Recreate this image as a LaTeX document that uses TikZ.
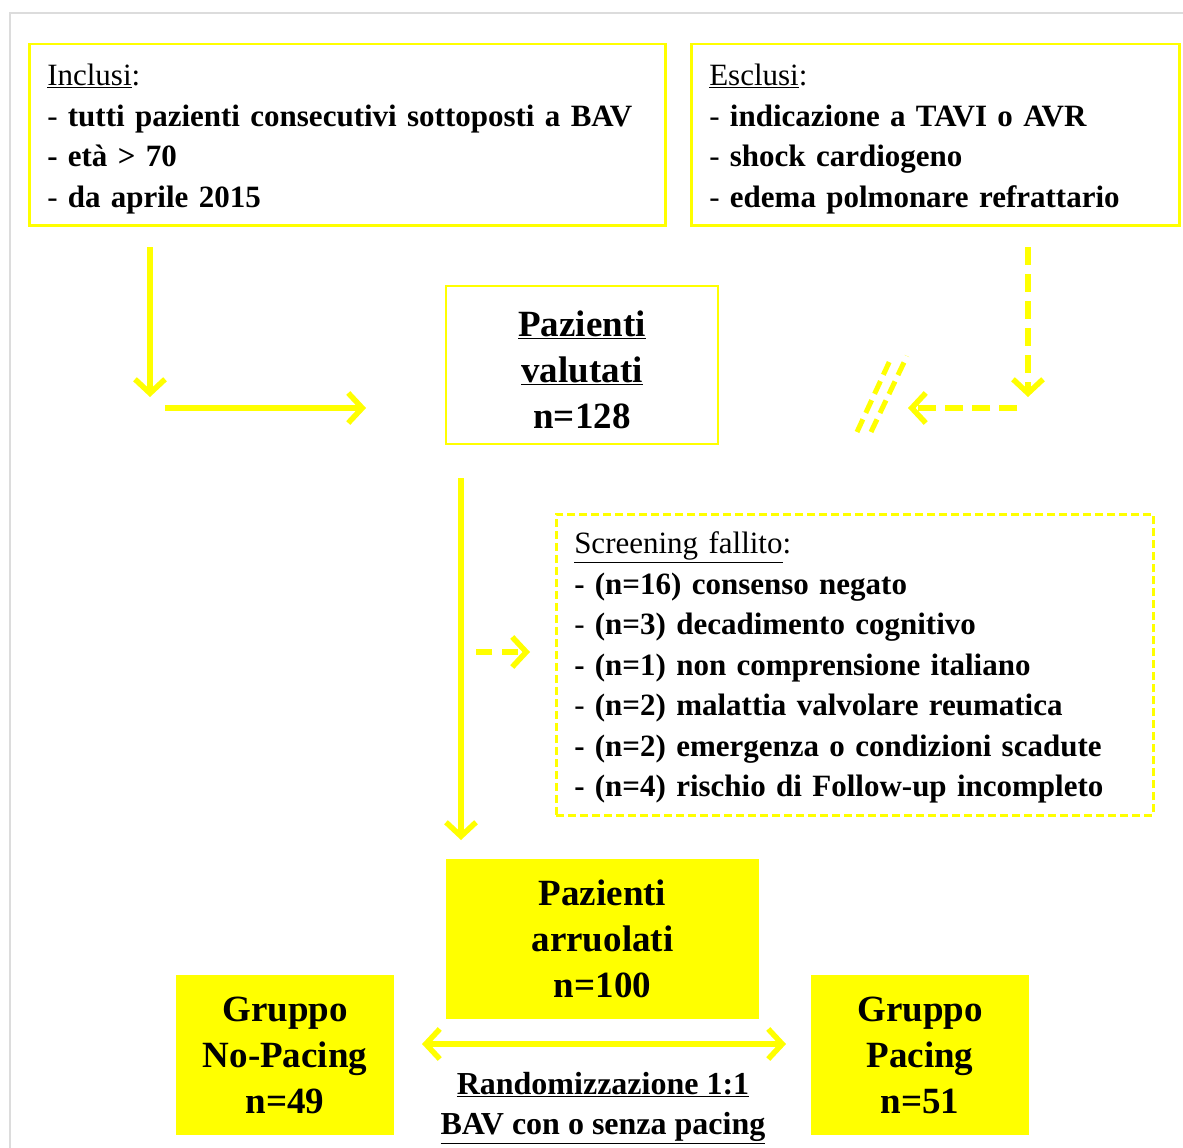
\documentclass[tikz,border=0pt]{standalone}
\usepackage{fontspec}
\setmainfont{Liberation Serif}
\usetikzlibrary{arrows.meta}
\definecolor{giallo}{HTML}{FFFF00}
\definecolor{cornice}{HTML}{DCDCDC}
\newcommand{\testo}{\fontsize{31}{40.5}\selectfont}
\newcommand{\grande}{\fontsize{37}{46}\selectfont\bfseries}
\newcommand{\spinta}[1]{\rule{0pt}{#1}}
\tikzset{
  bordo/.style={draw=giallo, line width=2.5pt, fill=white, inner xsep=18pt, inner ysep=0pt, align=left, font=\testo, anchor=north west},
  pieno/.style={fill=giallo, inner sep=0pt, align=center, font=\grande},
  freccia/.style={draw=giallo, line width=5.5pt, -{Straight Barb[length=14pt,width=30pt]}},
  tratteggio/.style={dash pattern=on 18pt off 9pt}
}

\begin{document}
\begin{tikzpicture}[x=1pt, y=-1pt]
 \useasboundingbox (0,0) rectangle (1183,1148);
 % cornice grigia
 \draw[cornice, line width=2pt] (10,1160) -- (10,13) -- (1195,13);

 % criteri
 \node[bordo, minimum width=636pt, minimum height=181pt, text width=600pt] (inclusi) at (28,43)
   {\spinta{30pt}\underline{Inclusi}:\\
    - \textbf{tutti pazienti consecutivi sottoposti a BAV}\\
    \textbf{- età > 70}\\
    - \textbf{da aprile 2015}};
 \node[bordo, minimum width=488pt, minimum height=181pt, text width=452pt] (esclusi) at (690,43)
   {\spinta{30pt}\underline{Esclusi}:\\
    - \textbf{indicazione a TAVI o AVR}\\
    - \textbf{shock cardiogeno}\\
    - \textbf{edema polmonare refrattario}};

 \node[draw=giallo, line width=2.5pt, minimum width=272pt, minimum height=158pt, inner sep=0pt, align=center, font=\grande] (valutati) at (582,365)
   {\spinta{35pt}\underline{Pazienti}\\ \underline{valutati}\\ n=128};

 \node[bordo, dash pattern=on 8pt off 4pt, minimum width=597pt, minimum height=301pt, text width=561pt] (screening) at (555,513)
   {\spinta{28pt}\underline{Screening fallito}:\\
    \textbf{- (n=16) consenso negato}\\
    - \textbf{(n=3) decadimento cognitivo}\\
    \textbf{- (n=1) non comprensione italiano}\\
    - \textbf{(n=2) malattia valvolare reumatica}\\
    \textbf{- (n=2) emergenza o condizioni scadute}\\
    \textbf{- (n=4) rischio di Follow-up incompleto}};

 \node[pieno, minimum width=313pt, minimum height=160pt] (arruolati) at (602.5,939)
   {Pazienti\\ arruolati\\ n=100};
 \node[pieno, minimum width=218pt, minimum height=160pt] (nopacing) at (285,1055)
   {Gruppo\\ No-Pacing\\ n=49};
 \node[pieno, minimum width=218pt, minimum height=160pt] (pacing) at (920,1055)
   {Gruppo\\ Pacing\\ n=51};

 \node[font=\fontsize{32}{40}\selectfont\bfseries, align=center] (random) at (603,1108)
   {\underline{Randomizzazione 1:1}\\ \underline{BAV con o senza pacing}};

 % punti delle frecce
 \coordinate (a1) at (150,247);
 \coordinate (a2) at (150,397);
 \coordinate (b1) at (165,408);
 \coordinate (b2) at (366,408);
 \coordinate (c1) at (1028,247);
 \coordinate (c2) at (1028,397);
 \coordinate (d1) at (1017,408);
 \coordinate (d2) at (908,408);
 \coordinate (e1) at (461,478);
 \coordinate (e2) at (461,840);
 \coordinate (f1) at (476,652);
 \coordinate (f2) at (530,652);
 \coordinate (g1) at (422,1044);
 \coordinate (g2) at (786,1044);

 \draw[freccia] (a1) -- (a2);
 \draw[freccia] (b1) -- (b2);
 \draw[freccia, tratteggio] (c1) -- (c2);
 \draw[freccia, tratteggio] (d1) -- (d2);
 \draw[freccia] (e1) -- (e2);
 \draw[freccia, dash pattern=on 16pt off 10pt] (f1) -- (f2);
 \draw[freccia, {Straight Barb[length=14pt,width=30pt]}-{Straight Barb[length=14pt,width=30pt]}] (g1) -- (g2);

 % interruzione
 \draw[giallo, line width=5pt, dash pattern=on 14pt off 7pt] (857,432) -- (892,356);
 \draw[giallo, line width=5pt, dash pattern=on 14pt off 7pt] (871,432) -- (907,356);
\end{tikzpicture}
\end{document}
